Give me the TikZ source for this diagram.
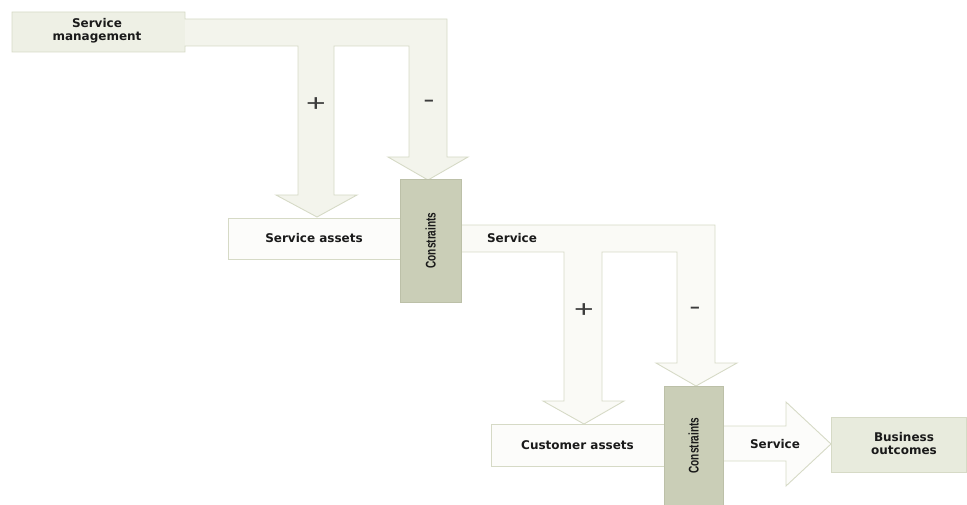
\documentclass[tikz,border=0pt]{standalone}
\usepackage{fontspec}
\newfontfamily\lblfam{DejaVu Sans}
\newfontfamily\consfam{Liberation Sans}[FakeStretch=0.72]
\newfontfamily\signfam{Liberation Sans}
\definecolor{bandA}{HTML}{F3F4EC}
\definecolor{smbox}{HTML}{EEF0E5}
\definecolor{bandB}{HTML}{FAFAF6}
\definecolor{assetfill}{HTML}{FCFCFA}
\definecolor{consfill}{HTML}{CACEB7}
\definecolor{consline}{HTML}{BCC0A8}
\definecolor{bizfill}{HTML}{E8EBDD}
\definecolor{edge}{HTML}{D6DAC6}
\definecolor{ink}{HTML}{1A1A1A}
\tikzset{
  shapeline/.style={draw=edge, line width=0.9pt, line join=miter},
  lbl/.style={font=\lblfam\bfseries\fontsize{12}{13}\selectfont, text=ink, align=center, inner sep=0pt},
  assetbox/.style={shapeline, fill=assetfill, minimum width=#1, minimum height=41pt, inner sep=0pt, font=\lblfam\bfseries\fontsize{12}{13}\selectfont, text=ink},
  consbox/.style={draw=consline, line width=0.6pt, fill=consfill, rotate=90, inner sep=0pt, font=\consfam\bfseries\fontsize{14}{16}\selectfont, text=ink},
  sign/.style={font=\signfam\fontsize{24}{24}\selectfont, text=ink!85, inner sep=0pt}
}
\begin{document}
\begin{tikzpicture}[x=1pt,y=-1pt]
\useasboundingbox (0,0) rectangle (967,505);
% ---- upper flow (service management) ----
\fill[bandA] (12,12) -- (185,12) -- (185,19) -- (447,19) -- (447,157) -- (468,157) -- (428,180)
  -- (388,157) -- (409,157) -- (409,46) -- (334,46) -- (334,195) -- (357,195) -- (317,217)
  -- (276,195) -- (298,195) -- (298,46) -- (185,46) -- (185,52) -- (12,52) -- cycle;
\fill[smbox] (12,12) rectangle (185,52);
\draw[shapeline] (12,12) -- (185,12) -- (185,19) -- (447,19) -- (447,157) -- (468,157) -- (428,180)
  -- (388,157) -- (409,157) -- (409,46) -- (334,46) -- (334,195) -- (357,195) -- (317,217)
  -- (276,195) -- (298,195) -- (298,46) -- (185,46) -- (185,52) -- (12,52) -- cycle;
\node[lbl] (sm) at (97,31) {Service\\management};
\node[sign] (plus1) at (316,105) {\scalebox{1.4}[1]{+}};
\node[sign, anchor=base] (minus1) at (429,108) {\scalebox{1.4}[1]{-}};
% ---- service assets ----
\node[assetbox=172pt] (sa) at (314,238.5) {Service assets};
% ---- middle flow (service) ----
\draw[shapeline, fill=bandB] (461,225) -- (715,225) -- (715,363) -- (737,363) -- (696,386)
  -- (656,363) -- (677,363) -- (677,252) -- (602,252) -- (602,401) -- (624,401) -- (584,424)
  -- (543,401) -- (564,401) -- (564,252) -- (461,252);
\node[consbox, minimum width=123pt, minimum height=61pt] (c1) at (430.5,240.5) {Constraints};
\node[lbl] (serv1) at (512,238) {Service};
\node[sign] (plus2) at (584,311) {\scalebox{1.4}[1]{+}};
\node[sign, anchor=base] (minus2) at (695,315) {\scalebox{1.4}[1]{-}};
% ---- customer assets ----
\node[assetbox=173pt, minimum height=42pt] (ca) at (577.5,445) {Customer assets};
% ---- output arrow ----
\draw[shapeline, fill=assetfill] (723,426) -- (786,426) -- (786,402) -- (831,444) -- (786,486)
  -- (786,461) -- (723,461);
\node[consbox, minimum width=119pt, minimum height=59pt] (c2) at (693.5,445.5) {Constraints};
\node[lbl] (serv2) at (775,444) {Service};
% ---- business outcomes ----
\node[shapeline, fill=bizfill, minimum width=135pt, minimum height=55pt, inner sep=0pt] (bo) at (898.5,444.5) {};
\node[lbl] (botxt) at (904,444) {Business\\outcomes};
\end{tikzpicture}
\end{document}
